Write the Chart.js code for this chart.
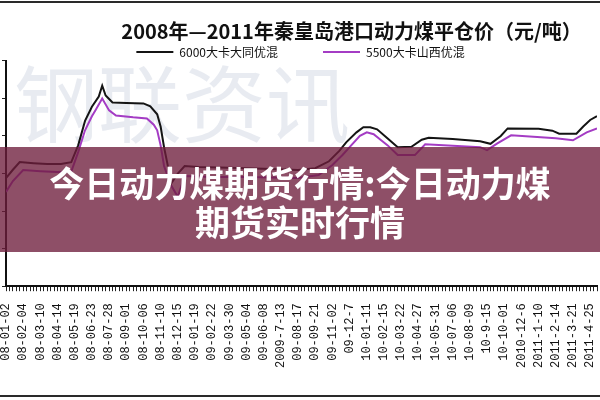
<!DOCTYPE html>
<html><head><meta charset="utf-8">
<script src="https://cdn.jsdelivr.net/npm/chart.js@4.4.1/dist/chart.umd.min.js"></script>
<style>html,body{margin:0;padding:0;background:#fff;}#wrap{width:600px;height:400px;position:relative;}</style>
</head><body><div id="wrap"><canvas id="c"></canvas></div>
<script>
// ---- data ----
const titleText = '2008年—2011年秦皇岛港口动力煤平仓价（元/吨）';
const seriesNames = ['6000大卡大同优混', '5500大卡山西优混'];
const tickLabels = ['08-01-02','08-02-04','08-03-10','08-04-14','08-05-19','08-06-23','08-07-28','08-09-01','08-10-06','08-11-10','08-12-15','09-01-19','09-02-22','09-03-30','09-05-04','09-06-08','2009-7-13','09-08-17','09-09-21','09-11-02','09-12-7','10-01-11','10-02-15','10-03-22','10-04-27','10-05-31','10-07-06','10-08-09','10-9-15','10-10-01','2010-12-6','2011-1-10','2011-2-14','2011-3-21','2011-4-25'];
const weeksPerLabel = 5;
// week index (0 = 08-01-02) and price, 6000 kcal Datong blend
const weeksDatong = [0,2,4,8,12,16,19,21,23,25,27,28,29,31,35,40,42,44,45,46,47,48,50,52,56,65,75,85,90,94,97,99,102,104,106,108,111,114,118,121,123,130,138,141,144,146,155,159,161,166,168,170,172];
const priceDatong = [576,620,661,655,650,650,660,750,880,955,1010,1068,1015,978,975,973,957,915,850,740,650,545,600,640,634,630,625,618,628,665,720,766,819,846,846,835,788,740,742,780,790,783,772,758,800,840,838,828,812,812,850,885,905];
// week index and price, 5500 kcal Shanxi blend
const weeksShanxi = [0,2,5,10,15,19,21,23,25,26,28,30,32,37,41,43,44,45,46,48,50,52,60,70,85,91,95,98,100,103,105,107,109,111,114,119,122,130,138,140,143,147,160,165,169,172];
const priceShanxi = [502,560,618,612,608,610,714,830,905,936,999,936,909,899,893,860,830,750,640,539,476,587,582,581,576,592,645,700,740,800,819,809,780,751,698,698,756,748,740,724,760,803,788,777,819,840];
const bannerLines = ['今日动力煤期货行情:今日动力煤', '期货实时行情'];
const watermarkText = '钢联资讯';

const lastWeek = (tickLabels.length - 1) * weeksPerLabel + 2;
const toPoints = (ws, vs) => ws.map((w, i) => ({x: w, y: vs[i]}));

const overlayPlugin = {
  id: 'overlay',
  afterLayout(chart) {
    const t = chart.titleBlock;
    if (t) { const h = t.bottom - t.top; t.top = 31 - h / 2; t.bottom = t.top + h; t.left += 52; t.right += 52; }
    const l = chart.legend;
    if (l) { const h = l.bottom - l.top; l.top = 52 - 6 - 45; l.bottom = l.top + h; l.left += 1; l.right += 1; }
  },
  beforeDatasetsDraw(chart) {
    const ctx = chart.ctx;
    ctx.save();
    ctx.font = "84px 'Noto Sans CJK SC'";
    ctx.fillStyle = 'rgba(150,165,190,0.22)';
    ctx.textBaseline = 'middle';
    ctx.textAlign = 'left';
    ctx.fillText(watermarkText, 14, 104);
    ctx.restore();
  },
  afterDraw(chart) {
    const ctx = chart.ctx;
    const W = chart.width;
    ctx.save();
    ctx.fillStyle = 'rgba(110,30,60,0.78)';
    ctx.fillRect(0, 147, W, 105);
    ctx.fillStyle = '#ffffff';
    ctx.font = "bold 35px 'Noto Sans CJK SC'";
    ctx.textAlign = 'center';
    ctx.textBaseline = 'middle';
    ctx.fillText(bannerLines[0], 300, 184);
    ctx.fillText(bannerLines[1], 300, 223);
    ctx.strokeStyle = '#2a2a2a';
    ctx.lineWidth = 2;
    ctx.beginPath();
    ctx.moveTo(0, 2); ctx.lineTo(W, 2);
    ctx.moveTo(0, 396); ctx.lineTo(W, 396);
    ctx.stroke();
    ctx.restore();
  }
};

new Chart(document.getElementById('c'), {
  type: 'line',
  data: {
    datasets: [
      {label: seriesNames[0], data: toPoints(weeksDatong, priceDatong), borderColor: '#141414', backgroundColor: '#141414', borderWidth: 2, pointRadius: 0, tension: 0, fill: false},
      {label: seriesNames[1], data: toPoints(weeksShanxi, priceShanxi), borderColor: '#a43cc4', backgroundColor: '#a43cc4', borderWidth: 2, pointRadius: 0, tension: 0, fill: false}
    ]
  },
  options: {
    responsive: true,
    maintainAspectRatio: false,
    animation: false,
    layout: {padding: {top: -30.2, left: 2, right: 3, bottom: 20}},
    plugins: {
      title: {display: true, text: titleText, color: '#111', padding: 0, font: {family: "'Noto Sans CJK SC'", size: 20, weight: 'bold'}},
      legend: {display: true, labels: {usePointStyle: true, pointStyle: 'line', pointStyleWidth: 37, boxHeight: 12, padding: 45, color: '#111', font: {family: "'Noto Sans CJK SC'", size: 12}}},
      tooltip: {enabled: false}
    },
    scales: {
      x: {
        type: 'linear', min: 0, max: lastWeek,
        afterBuildTicks: axis => { axis.ticks = Array.from({length: lastWeek + 1}, (_, i) => ({value: i})); },
        afterFit: s => { s.paddingRight = 0; s.paddingLeft = 0; },
        ticks: {autoSkip: false, minRotation: 90, maxRotation: 90, padding: 12, color: '#111', font: {family: "'Liberation Mono'", size: 12},
          callback: v => (v % weeksPerLabel === 0 && tickLabels[v / weeksPerLabel]) ? tickLabels[v / weeksPerLabel] : ''},
        grid: {drawOnChartArea: false, drawTicks: true, tickLength: 5, color: '#222'},
        border: {color: '#111', width: 2}
      },
      y: {
        min: 0, max: 1200,
        ticks: {stepSize: 200, display: false},
        grid: {drawOnChartArea: false, drawTicks: true, tickLength: 4, color: '#222'},
        border: {color: '#111', width: 2}
      }
    }
  },
  plugins: [overlayPlugin]
});
</script>
</body></html>
